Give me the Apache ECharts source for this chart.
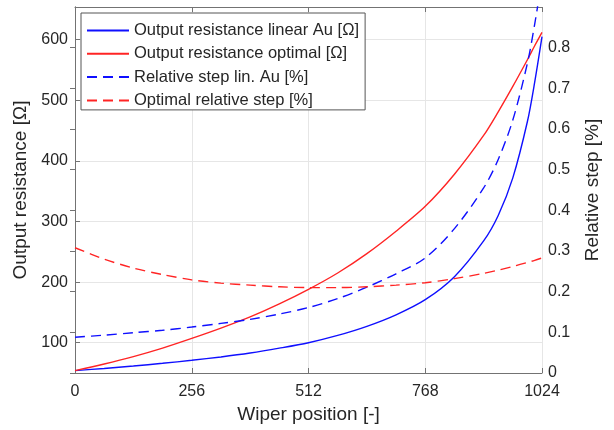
<!DOCTYPE html>
<html>
<head>
<meta charset="utf-8">
<script src="https://cdn.jsdelivr.net/npm/echarts@6/dist/echarts.min.js"></script>
<style>html,body{margin:0;padding:0;background:#fff}#c{width:614px;height:430px}</style>
</head>
<body>
<div id="c"></div>
<script>
// Wiper position samples
const xPos = [0, 64, 128, 192, 256, 320, 384, 448, 512, 576, 640, 704, 768, 832, 896, 928, 960, 992, 1008, 1024];
// Output resistance linear Au [Ω]
const rLinAu = [54, 57.5, 61.5, 66, 71, 76.5, 83, 91, 100, 112, 127, 146, 171, 209, 268, 310, 372, 465, 530, 605];
// Output resistance optimal [Ω]
const rOpt = [54, 64.8, 77, 91, 107, 124, 142.5, 164, 188, 215, 247, 284, 325, 378, 442, 481, 523, 567, 590, 612];
// Relative step lin. Au [%]
const stepLinAu = [0.088, 0.093, 0.099, 0.105, 0.113, 0.122, 0.132, 0.145, 0.161, 0.183, 0.211, 0.244, 0.283, 0.355, 0.455, 0.525, 0.622, 0.762, 0.858, 0.97];
// Optimal relative step [%]
const stepOpt = [0.308, 0.28, 0.258, 0.242, 0.229, 0.221, 0.216, 0.212, 0.210, 0.210, 0.212, 0.216, 0.222, 0.232, 0.245, 0.253, 0.262, 0.272, 0.277, 0.283];

const names = ['Output resistance linear Au [Ω]', 'Output resistance optimal [Ω]', 'Relative step lin. Au [%]', 'Optimal relative step [%]'];

const pair = (ys) => xPos.map((x, i) => [x, ys[i]]);
const FONT = 'Liberation Sans';
const TXT = '#262626';
const AX = '#737373';
const BLUE = '#0f0fff';
const RED = '#ff2424';

const chart = echarts.init(document.getElementById('c'), null, {renderer: 'canvas'});
chart.setOption({
  animation: false,
  textStyle: {fontFamily: FONT, color: TXT},
  grid: {left: 75, right: 72, top: 7, bottom: 57, containLabel: false},
  legend: {
    orient: 'vertical', left: 81, top: 13,
    itemWidth: 42, itemHeight: 17, itemGap: 6.3, itemTextGap: 5,
    padding: [9, 6, 1, 5],
    borderColor: '#555', borderWidth: 1, backgroundColor: '#fff',
    itemStyle: {opacity: 0},
    textStyle: {fontFamily: FONT, fontSize: 16.5, color: TXT},
    data: names
  },
  xAxis: [{
    type: 'value', min: 0, max: 1024, interval: 256,
    name: 'Wiper position [-]', nameLocation: 'middle', nameGap: 30,
    nameTextStyle: {fontFamily: FONT, fontSize: 19, color: TXT},
    axisLine: {show: true, lineStyle: {color: AX, width: 1}},
    axisTick: {show: true, inside: true, length: 5, lineStyle: {color: AX}},
    axisLabel: {fontFamily: FONT, fontSize: 16, color: TXT, margin: 11, formatter: v => String(v)},
    splitLine: {show: true, lineStyle: {color: '#e6e6e6', width: 1}}
  }, {
    type: 'value', min: 0, max: 1024, interval: 256, position: 'top',
    axisLine: {show: true, onZero: false, lineStyle: {color: AX, width: 1}},
    axisTick: {show: true, inside: true, length: 5, lineStyle: {color: AX}},
    axisLabel: {show: false},
    splitLine: {show: false}
  }],
  yAxis: [{
    type: 'value', min: 50, max: 654, position: 'left', splitNumber: 6,
    name: 'Output resistance [Ω]', nameLocation: 'middle', nameGap: 40, nameRotate: 90,
    nameTextStyle: {fontFamily: FONT, fontSize: 19, color: TXT},
    axisLine: {show: true, lineStyle: {color: AX, width: 1}},
    axisTick: {show: true, inside: true, length: 5, lineStyle: {color: AX}},
    axisLabel: {fontFamily: FONT, fontSize: 16, color: TXT, margin: 7, showMinLabel: false, showMaxLabel: false},
    splitLine: {show: true, lineStyle: {color: '#e6e6e6', width: 1}}
  }, {
    type: 'value', min: 0, max: 0.9, interval: 0.1, position: 'right',
    name: 'Relative step [%]', nameLocation: 'middle', nameGap: 41, nameRotate: 90,
    nameTextStyle: {fontFamily: FONT, fontSize: 19, color: TXT},
    axisLine: {show: true, lineStyle: {color: AX, width: 1}},
    axisTick: {show: true, inside: true, length: 5, lineStyle: {color: AX}},
    axisLabel: {fontFamily: FONT, fontSize: 16, color: TXT, margin: 6, showMaxLabel: false,
      formatter: v => String(Math.round(v * 10) / 10)},
    splitLine: {show: false}
  }],
  series: [
    {name: names[0], type: 'line', yAxisIndex: 0, data: pair(rLinAu), showSymbol: false, symbol: 'none',
     smooth: 0.3, clip: true, lineStyle: {color: BLUE, width: 1.4}, itemStyle: {color: BLUE}},
    {name: names[1], type: 'line', yAxisIndex: 0, data: pair(rOpt), showSymbol: false, symbol: 'none',
     smooth: 0.3, clip: true, lineStyle: {color: RED, width: 1.4}, itemStyle: {color: RED}},
    {name: names[2], type: 'line', yAxisIndex: 1, data: pair(stepLinAu), showSymbol: false, symbol: 'none',
     smooth: 0.3, clip: true, lineStyle: {color: BLUE, width: 1.4, type: [10, 6]}, itemStyle: {color: BLUE}},
    {name: names[3], type: 'line', yAxisIndex: 1, data: pair(stepOpt), showSymbol: false, symbol: 'none',
     smooth: 0.3, clip: true, lineStyle: {color: RED, width: 1.4, type: [10, 6]}, itemStyle: {color: RED}}
  ]
});
</script>
</body>
</html>
